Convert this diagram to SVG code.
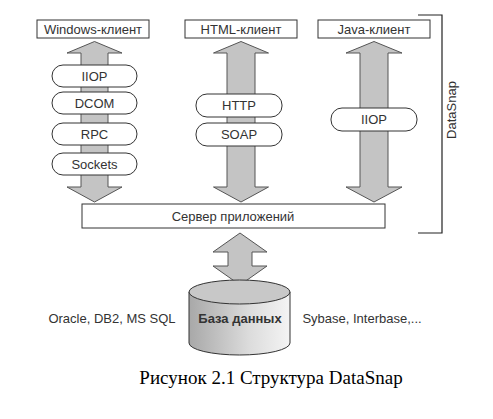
<svg xmlns="http://www.w3.org/2000/svg" width="493" height="419" viewBox="0 0 493 419">
<defs>
<style>
.box{fill:#fff;stroke:#333;stroke-width:1}
.pill{fill:#fff;stroke:#333;stroke-width:1}
.arr{fill:#c4c4c4;stroke:#555;stroke-width:1}
.t{font-family:"Liberation Sans",Arial,sans-serif;font-size:13px;fill:#333;text-anchor:middle}
.br{fill:none;stroke:#222;stroke-width:1.2}
</style>
<linearGradient id="cyl" x1="0" y1="0" x2="1" y2="0">
<stop offset="0" stop-color="#a8a8a8"/>
<stop offset="0.6" stop-color="#dcdcdc"/>
<stop offset="1" stop-color="#f4f4f4"/>
</linearGradient>
</defs>
<rect width="493" height="419" fill="#fff"/>
<g id="connectors">
<path class="arr" d="M94.5,41.5 L122,53 L108,53 L108,187 L122,187 L94.5,202 L67,187 L81,187 L81,53 L67,53 Z"/>
<path class="arr" d="M241,41.5 L268.5,53 L255,53 L255,187 L268.5,187 L241,202 L213.5,187 L227,187 L227,53 L213.5,53 Z"/>
<path class="arr" d="M374,41.5 L402,53 L388,53 L388,187 L402,187 L374,202 L346,187 L360,187 L360,53 L346,53 Z"/>
<path class="arr" d="M240,233 L267,252 L252,252 L252,266 L267,266 L240,285 L213,266 L228,266 L228,252 L213,252 Z"/>
</g>
<g id="bracket">
<path class="br" d="M418,15 L442,15 L442,233 L418,233"/>
<text class="t" transform="translate(456,110) rotate(-90)">DataSnap</text>
</g>
<g id="windows-client"><rect class="box" x="37" y="20" width="112" height="18"/><text class="t" x="93" y="33.5">Windows-клиент</text></g>
<g id="html-client"><rect class="box" x="185" y="20" width="112" height="18"/><text class="t" x="241" y="33.5">HTML-клиент</text></g>
<g id="java-client"><rect class="box" x="318" y="20" width="112" height="18"/><text class="t" x="374" y="33.5">Java-клиент</text></g>
<g id="win-iiop"><rect class="pill" x="52" y="65" width="85" height="22" rx="11"/><text class="t" x="94.5" y="80.5">IIOP</text></g>
<g id="win-dcom"><rect class="pill" x="52" y="92" width="85" height="22" rx="11"/><text class="t" x="94.5" y="107.5">DCOM</text></g>
<g id="win-rpc"><rect class="pill" x="52" y="123" width="85" height="22" rx="11"/><text class="t" x="94.5" y="138.5">RPC</text></g>
<g id="win-sockets"><rect class="pill" x="52" y="153" width="85" height="22" rx="11"/><text class="t" x="94.5" y="168.5">Sockets</text></g>
<g id="html-http"><rect class="pill" x="196" y="94" width="86" height="23" rx="11"/><text class="t" x="239" y="110">HTTP</text></g>
<g id="html-soap"><rect class="pill" x="196" y="123" width="86" height="23" rx="11"/><text class="t" x="239" y="139">SOAP</text></g>
<g id="java-iiop"><rect class="pill" x="331" y="108" width="86" height="23" rx="11"/><text class="t" x="374" y="124">IIOP</text></g>
<g id="app-server"><rect class="box" x="82" y="204" width="303" height="24"/><text class="t" x="233" y="220.5">Сервер приложений</text></g>
<g id="database">
<path d="M189,292 L189,343 A50.5,12 0 0 0 290,343 L290,292 Z" fill="url(#cyl)" stroke="#333"/>
<ellipse cx="239.5" cy="292" rx="50.5" ry="12" fill="#c8c8c8" stroke="#333"/>
<text class="t" x="240" y="323" font-weight="bold" fill="#444">База данных</text>
</g>
<text class="t" x="112" y="323">Oracle, DB2, MS SQL</text>
<text class="t" x="362" y="323">Sybase, Interbase,...</text>
<text x="271" y="384" font-family="Liberation Serif,'Times New Roman',serif" font-size="19" text-anchor="middle" fill="#000">Рисунок 2.1 Структура DataSnap</text>
</svg>
